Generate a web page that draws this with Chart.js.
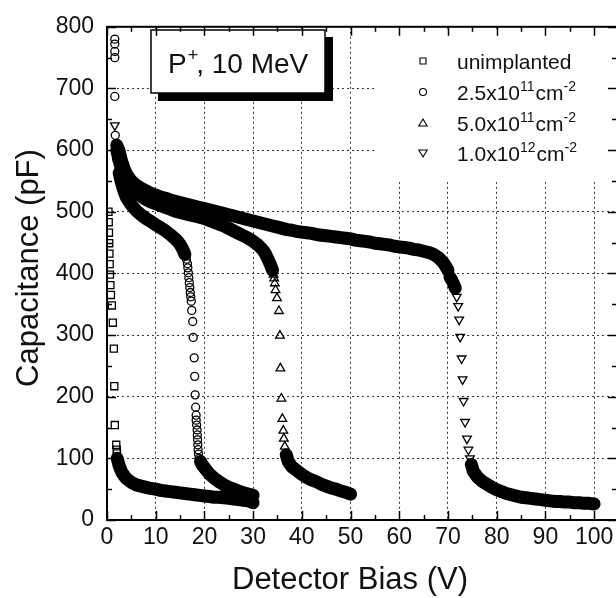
<!DOCTYPE html>
<html>
<head>
<meta charset="utf-8">
<script src="https://cdn.jsdelivr.net/npm/chart.js@4.4.0/dist/chart.umd.min.js"></script>
<style>
    html, body { margin: 0; padding: 0; background: #fff; overflow: hidden; }
    #wrap { width: 630px; height: 598px; }
</style>
</head>
<body>
<div id="wrap"><canvas id="capChart"></canvas></div>
<script>
// Datos (bias en V, capacitancia en pF)
const biasUnimpl = [0.3, 0.35, 0.4, 0.45, 0.5, 0.55, 0.6, 0.7, 0.8, 1.0, 1.2, 1.4, 1.5, 1.6, 1.9, 2.0, 2.05,
    2.1, 2.5, 3, 3.5, 4, 5, 6, 7, 8, 9, 10, 11, 12, 13, 14, 15, 16, 17, 18, 19, 20, 21, 22, 23, 24, 25, 26, 27, 28, 29, 30];
const capUnimpl = [500, 483, 466, 449, 432, 415, 398, 381, 365, 348, 320, 278, 217, 154, 122, 114, 108,
    100, 88, 78, 72, 67, 61, 57, 55, 53, 51, 50, 48, 47, 46, 45, 44, 43, 42, 41, 40, 39, 38, 37, 37, 36, 35, 34, 33, 32, 31, 28];

const bias25 = [1.6, 1.6, 1.6, 1.6, 1.6, 1.7,
    2.0, 2.5, 3, 3.5, 4, 5, 6, 7, 8, 9, 10, 11, 12, 13, 14, 14.5, 15, 15.5, 16, 16.3, 16.5,
    16.6, 16.7, 16.8, 16.9, 17.0, 17.1, 17.2, 17.3, 17.4, 17.6, 17.7, 17.9, 18.0, 18.1, 18.2, 18.3, 18.3, 18.4, 18.5, 18.55, 18.6, 18.65, 18.7, 18.8, 18.9,
    19.2, 19.6, 20, 20.5, 21, 22, 23, 24, 25, 26, 27, 28, 29, 30];
const cap25 = [780, 772, 760, 750, 687, 624,
    585, 563, 546, 533, 523, 511, 502, 495, 489, 484, 479, 474, 469, 463, 456, 452, 447, 440, 431, 423, 416,
    409, 401, 393, 385, 377, 369, 362, 355, 340, 322, 296, 263, 233, 203, 183, 170, 162, 154, 146, 138, 130, 122, 114, 107, 100,
    95, 89, 85, 80, 75, 68, 62, 57, 53, 50, 47, 44, 42, 40];

const bias50 = [2.0, 2.5, 3, 3.5, 4, 5, 6, 7, 8, 9, 10, 11, 12, 13, 14, 15, 16, 17, 18, 19, 20,
    21, 22, 23, 24, 25, 26, 27, 28, 29, 30, 31, 32, 32.5, 33, 33.5, 34,
    34.2, 34.3, 34.45, 34.6, 34.9, 35.3, 35.5, 35.6, 35.8, 36.0, 36.2, 36.3, 36.5, 36.8, 37.2,
    38, 39, 40, 41, 42, 43, 44, 45, 46, 47, 48, 49, 50];
const cap50 = [600, 583, 568, 556, 548, 537, 530, 525, 520, 516, 513, 510, 507, 504, 501, 499, 497, 495, 493, 491, 489,
    486, 483, 480, 477, 473, 469, 465, 461, 457, 452, 446, 438, 432, 424, 415, 405,
    398, 392, 384, 373, 360, 339, 299, 246, 197, 164, 145, 132, 119, 106, 95,
    86, 80, 74, 69, 65, 62, 58, 55, 52, 50, 47, 45, 42];

const bias100 = [1.6, 2.0, 2.5, 3, 3.5, 4, 5, 6, 7, 8, 9, 10, 11, 12, 13, 14, 15, 16, 17, 18, 19, 20,
    21, 22, 23, 24, 25, 26, 27, 28, 29, 30, 31, 32, 33, 34, 35, 36, 37, 38, 39, 40,
    41, 42, 43, 44, 45, 46, 47, 48, 49, 50, 51, 52, 53, 54, 55, 56, 57, 58, 59, 60,
    61, 62, 63, 64, 65, 66, 67, 68, 68.5, 69, 69.5, 70,
    70.2, 70.4, 70.8, 71.1, 71.5, 71.8, 72.1, 72.3, 72.5, 72.8, 73.0, 73.2, 73.5, 73.9, 74.2, 74.5, 74.8, 75.2,
    76, 77, 78, 79, 80, 81, 82, 83, 84, 85, 86, 87, 88, 89, 90, 91, 92, 93, 94, 95, 96, 97, 98, 99, 100];
const cap100 = [640, 608, 598, 582, 570, 561, 550, 543, 538, 534, 530, 527, 524, 522, 519, 517, 515, 513, 511, 509, 507, 505,
    503, 501, 499, 497, 495, 493, 491, 489, 487, 485, 483, 481, 479, 477, 475, 473, 471, 470, 468, 467,
    466, 465, 463, 462, 461, 460, 459, 458, 457, 456, 454, 453, 452, 451, 449, 448, 447, 446, 444, 443,
    442, 441, 439, 438, 436, 434, 431, 426, 422, 418, 412, 405,
    400, 394, 389, 384, 376, 362, 347, 325, 297, 262, 228, 193, 159, 132, 114, 100, 90, 79,
    70, 63, 58, 53, 49, 46, 43, 41, 39, 37, 36, 35, 34, 33, 32, 31, 30, 30, 29, 29, 28, 28, 27, 27, 26];

// Ejes
const biasTicks = [0, 10, 20, 30, 40, 50, 60, 70, 80, 90, 100];
const biasMinor = [5, 15, 25, 35, 45, 55, 65, 75, 85, 95];
const capTicks = [0, 100, 200, 300, 400, 500, 600, 700, 800];
const capMinor = [50, 150, 250, 350, 450, 550, 650, 750];

// Textos de la leyenda (partes normales y superindices alternadas)
const legendLabels = [
    ['unimplanted'],
    ['2.5x10', '11', 'cm', '-2'],
    ['5.0x10', '11', 'cm', '-2'],
    ['1.0x10', '12', 'cm', '-2']
];
const legendStyles = ['rect', 'circle', 'triangle', 'invTriangle'];
const boxLabel = ['P', '+', ', 10 MeV'];

const FONT = "'Liberation Sans', Arial, sans-serif";

function toPoints(xs, ys) {
    return xs.map((v, i) => ({ x: v, y: ys[i] }));
}

// Une los puntos densos con una banda negra, deja los puntos separados sueltos
function isDense(ctx) {
    const dx = Math.abs(ctx.p1.x - ctx.p0.x);
    const dy = Math.abs(ctx.p1.y - ctx.p0.y);
    return dx >= 1.9 && Math.hypot(dx, dy) <= 11;
}
const bandSegment = {
    borderColor: ctx => isDense(ctx) ? '#000' : 'rgba(0,0,0,0)',
    borderWidth: ctx => isDense(ctx) ? 13 : 0
};

function makeSet(label, xs, ys, style, radius, rotation) {
    return {
        label: label,
        data: toPoints(xs, ys),
        showLine: true,
        borderColor: 'rgba(0,0,0,0)',
        borderWidth: 13,
        borderCapStyle: 'round',
        borderJoinStyle: 'round',
        segment: bandSegment,
        pointStyle: style,
        pointRotation: rotation || 0,
        pointRadius: radius,
        pointBorderColor: '#000',
        pointBackgroundColor: 'rgba(0,0,0,0)',
        pointBorderWidth: 1.3
    };
}

function drawMarker(ctx, style, x, y) {
    ctx.beginPath();
    if (style === 'rect') {
        ctx.rect(x - 3, y - 3, 6, 6);
    } else if (style === 'circle') {
        ctx.arc(x, y, 3.5, 0, Math.PI * 2);
    } else if (style === 'triangle') {
        ctx.moveTo(x, y - 4); ctx.lineTo(x + 4.2, y + 3); ctx.lineTo(x - 4.2, y + 3); ctx.closePath();
    } else {
        ctx.moveTo(x, y + 4); ctx.lineTo(x + 4.2, y - 3); ctx.lineTo(x - 4.2, y - 3); ctx.closePath();
    }
    ctx.stroke();
}

// Caja P+, leyenda, marco, marcas y titulos
const decorPlugin = {
    id: 'decor',
    afterDatasetsDraw(chart) {
        const ctx = chart.ctx;
        ctx.save();
        // fondo blanco de la leyenda
        ctx.fillStyle = '#fff';
        ctx.fillRect(374, 30, 250, 152);

        // caja con sombra
        ctx.fillStyle = '#000';
        ctx.fillRect(158, 37, 175, 64);
        ctx.fillStyle = '#fff';
        ctx.fillRect(151, 30, 174, 63);
        ctx.strokeStyle = '#000';
        ctx.lineWidth = 1.5;
        ctx.strokeRect(151, 30, 174, 63);
        ctx.fillStyle = '#111';
        ctx.textBaseline = 'alphabetic';
        ctx.textAlign = 'left';
        let bx = 168;
        ctx.font = '28px ' + FONT;
        ctx.fillText(boxLabel[0], bx, 73);
        bx += ctx.measureText(boxLabel[0]).width + 1;
        ctx.font = '18px ' + FONT;
        ctx.fillText(boxLabel[1], bx, 61);
        bx += ctx.measureText(boxLabel[1]).width - 2;
        ctx.font = '28px ' + FONT;
        ctx.fillText(boxLabel[2], bx, 73);

        // leyenda
        const rows = [61, 92, 123, 153];
        ctx.lineWidth = 1.1;
        legendLabels.forEach((parts, i) => {
            const y = rows[i];
            ctx.strokeStyle = '#000';
            drawMarker(ctx, legendStyles[i], 423, y);
            let x = 457;
            parts.forEach((p, j) => {
                const sup = j % 2 === 1;
                ctx.font = (sup ? '14px ' : '21px ') + FONT;
                ctx.fillText(p, x, sup ? y - 1 : y + 8);
                x += ctx.measureText(p).width + (sup ? 1 : 0);
            });
        });
        ctx.restore();
    },
    afterDraw(chart) {
        const ctx = chart.ctx;
        const a = chart.chartArea;
        const xs = chart.scales.x;
        const ys = chart.scales.y;
        ctx.save();
        ctx.strokeStyle = '#000';
        ctx.lineWidth = 1.5;
        const seg = (x1, y1, x2, y2) => { ctx.beginPath(); ctx.moveTo(x1, y1); ctx.lineTo(x2, y2); ctx.stroke(); };
        biasTicks.forEach(v => {
            const px = Math.round(xs.getPixelForValue(v)) + 0.5;
            seg(px, a.bottom, px, a.bottom - 9);
            seg(px, a.top, px, a.top + 9);
        });
        biasMinor.forEach(v => {
            const px = Math.round(xs.getPixelForValue(v)) + 0.5;
            seg(px, a.bottom, px, a.bottom - 5);
            seg(px, a.top, px, a.top + 5);
        });
        capTicks.forEach(v => {
            const py = Math.round(ys.getPixelForValue(v)) + 0.5;
            seg(a.left, py, a.left + 9, py);
            seg(a.right, py, a.right - 9, py);
        });
        capMinor.forEach(v => {
            const py = Math.round(ys.getPixelForValue(v)) + 0.5;
            seg(a.left, py, a.left + 5, py);
            seg(a.right, py, a.right - 5, py);
        });
        ctx.lineWidth = 2;
        ctx.strokeRect(a.left, a.top, a.right - a.left, a.bottom - a.top);

        // titulos de los ejes
        ctx.fillStyle = '#111';
        ctx.font = '31px ' + FONT;
        ctx.textAlign = 'center';
        ctx.textBaseline = 'middle';
        ctx.fillText('Detector Bias (V)', 350, 580);
        ctx.translate(29, 268);
        ctx.rotate(-Math.PI / 2);
        ctx.fillText('Capacitance (pF)', 0, 0);
        ctx.restore();
    }
};

const ctx = document.getElementById('capChart').getContext('2d');
const capChart = new Chart(ctx, {
    type: 'scatter',
    data: {
        datasets: [
            makeSet('unimplanted', biasUnimpl, capUnimpl, 'rect', 5),
            makeSet('2.5x10^11 cm^-2', bias25, cap25, 'circle', 4),
            makeSet('5.0x10^11 cm^-2', bias50, cap50, 'triangle', 5),
            makeSet('1.0x10^12 cm^-2', bias100, cap100, 'triangle', 5, 180)
        ]
    },
    options: {
        responsive: true,
        maintainAspectRatio: false,
        animation: false,
        devicePixelRatio: 1,
        layout: { padding: { top: 17, right: 13, left: 0, bottom: 0 } },
        plugins: {
            legend: { display: false },
            tooltip: { enabled: false }
        },
        scales: {
            x: {
                type: 'linear',
                min: 0,
                max: 104.7,
                afterBuildTicks: scale => { scale.ticks = biasTicks.map(v => ({ value: v })); },
                afterFit: scale => { scale.height = 78; },
                ticks: {
                    color: '#111',
                    padding: 4,
                    maxRotation: 0,
                    font: { family: FONT, size: 23 }
                },
                grid: { color: '#333', lineWidth: 1, drawTicks: false },
                border: { display: false, dash: [2, 3] }
            },
            y: {
                type: 'linear',
                min: 0,
                max: 800,
                afterBuildTicks: scale => { scale.ticks = capTicks.map(v => ({ value: v })); },
                afterFit: scale => { scale.width = 107; },
                ticks: {
                    color: '#111',
                    padding: 13,
                    font: { family: FONT, size: 23 }
                },
                grid: { color: '#333', lineWidth: 1, drawTicks: false },
                border: { display: false, dash: [2, 3] }
            }
        }
    },
    plugins: [decorPlugin]
});
</script>
</body>
</html>
